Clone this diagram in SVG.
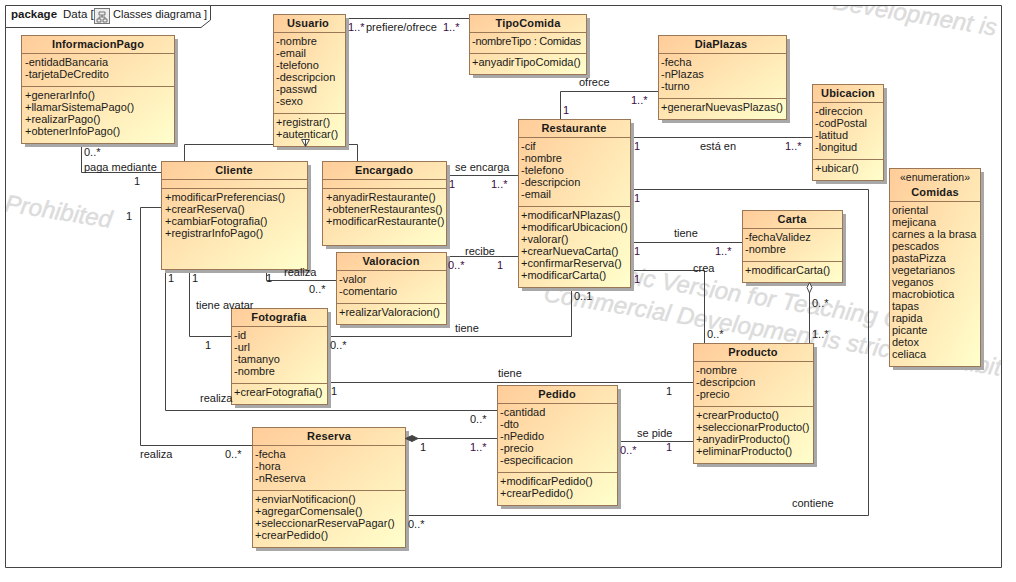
<svg xmlns="http://www.w3.org/2000/svg" width="1016" height="582" viewBox="0 0 1016 582">
<style>
text{font-family:"Liberation Sans",Arial,sans-serif;font-size:11px;fill:#1a1a1a}
.n{font-weight:bold;text-anchor:middle;letter-spacing:.15px}
.m{fill:#3c0a46}
.wm{font-size:24px;font-style:italic;fill:#dcdcdc;stroke:#dcdcdc;stroke-width:.5px}
.box{fill:url(#g);stroke:#9a7757;stroke-width:1}
.sh{fill:#a8a8a8}
.sep{stroke:#9a7757;stroke-width:1}
.c{fill:none;stroke:#444;stroke-width:1}
.t{font-size:11.5px}
</style>
<defs>
<linearGradient id="g" x1="0" y1="0" x2="1" y2="1"><stop offset="0" stop-color="#ffcc99"/><stop offset="1" stop-color="#ffffcc"/></linearGradient>
<clipPath id="fc"><rect x="6" y="6" width="995" height="561"/></clipPath>
</defs>
<rect width="1016" height="582" fill="#fff"/>
<g id="watermark" clip-path="url(#fc)">
<text class="wm" transform="translate(832,9) rotate(9.3)">Development is</text>
<text class="wm" transform="translate(4,211) rotate(9)">Prohibited</text>
<text class="wm" transform="translate(543,301) rotate(9.3)">Commercial Development is strictly Prohibited</text>
<text class="wm" transform="translate(550,271) rotate(9.3)">Academic Version for Teaching Only</text>
</g>
<g id="frame">
<path d="M5.5 5.5H1001.5V567.500H5.500Z" fill="none" stroke="#444"/>
<path d="M5.500 27.500H201L210.500 20V5.500" fill="none" stroke="#444"/>
<text x="11" y="18" style="font-size:11.5px;font-weight:bold">package</text>
<text x="63" y="18" class="t">Data [</text>
<rect x="94.500" y="8.500" width="15" height="15" fill="#eee" stroke="#777"/>
<path d="M99 12h6v3h-6zM97 19h4v3h-4zM103 19h4v3h-4zM102 15v2M99 19v-2h6v2" fill="none" stroke="#555" stroke-width=".8"/>
<text x="113" y="18">Classes diagrama ]</text>
</g>
<g id="connectors">
<path class="c" d="M346 18.500H469.500"/>
<path class="c" d="M184.500 161V144.500H357.500V161"/>
<path class="c" d="M81.500 143V172.500H161.500"/>
<path class="c" d="M161.500 207.500H140.500V445.500H252.500"/>
<path class="c" d="M165.500 269V410.500H497.500"/>
<path class="c" d="M189.500 269V336.500H231.500"/>
<path class="c" d="M266.500 269V280.500H336.500"/>
<path class="c" d="M446.500 175.500H518.500"/>
<path class="c" d="M446.500 256.500H518.500"/>
<path class="c" d="M560.500 119.500V91.500H658.500"/>
<path class="c" d="M630.500 137.500H812.500"/>
<path class="c" d="M630.500 189.500H868.500V515.500H405.500"/>
<path class="c" d="M630.500 242.500H742.500"/>
<path class="c" d="M630.500 270.500H704.500V343.500"/>
<path class="c" d="M571.500 287V336.500H327.500"/>
<path class="c" d="M327.500 382.500H693.500"/>
<path class="c" d="M617.500 441.500H693.500"/>
<path class="c" d="M418 438.500H497.500"/>
<path class="c" d="M809.500 293V343.500"/>
</g>
<g id="InformacionPago"><rect class="sh" x="25" y="39" width="153" height="108"/><rect class="box" x="21.500" y="35.500" width="153" height="108"/><path class="sep" d="M21.500 53.500H174.500M21.500 86.500H174.500"/>
<text class="n" x="98" y="48">InformacionPago</text>
<text x="25" y="66">-entidadBancaria</text><text x="25" y="78">-tarjetaDeCredito</text>
<text x="25" y="99">+generarInfo()</text><text x="25" y="111">+llamarSistemaPago()</text><text x="25" y="123">+realizarPago()</text><text x="25" y="135">+obtenerInfoPago()</text></g>
<g id="Usuario"><rect class="sh" x="277" y="18" width="72" height="132"/><rect class="box" x="273.500" y="14.500" width="72" height="132"/><path class="sep" d="M273.500 32.500H345.500M273.500 113.500H345.500"/>
<text class="n" x="308" y="27">Usuario</text>
<text x="276" y="45">-nombre</text><text x="276" y="57">-email</text><text x="276" y="69">-telefono</text><text x="276" y="81">-descripcion</text><text x="276" y="93">-passwd</text><text x="276" y="105">-sexo</text>
<text x="276" y="126">+registrar()</text><text x="276" y="138">+autenticar()</text></g>
<g id="TipoComida"><rect class="sh" x="473" y="18" width="117" height="60"/><rect class="box" x="469.500" y="14.500" width="117" height="60"/><path class="sep" d="M469.500 32.500H586.500M469.500 53.500H586.500"/>
<text class="n" x="528" y="27">TipoComida</text>
<text x="472" y="45" textLength="109">-nombreTipo : Comidas</text>
<text x="472" y="66">+anyadirTipoComida()</text></g>
<g id="DiaPlazas"><rect class="sh" x="662" y="39" width="128" height="84"/><rect class="box" x="658.500" y="35.500" width="128" height="84"/><path class="sep" d="M658.500 53.500H786.500M658.500 98.500H786.500"/>
<text class="n" x="721" y="48">DiaPlazas</text>
<text x="661" y="66">-fecha</text><text x="661" y="78">-nPlazas</text><text x="661" y="90">-turno</text>
<text x="661" y="111">+generarNuevasPlazas()</text></g>
<g id="Ubicacion"><rect class="sh" x="816" y="88" width="71" height="96"/><rect class="box" x="812.500" y="84.500" width="71" height="96"/><path class="sep" d="M812.500 102.500H883.500M812.500 159.500H883.500"/>
<text class="n" x="848" y="97">Ubicacion</text>
<text x="815" y="115">-direccion</text><text x="815" y="127">-codPostal</text><text x="815" y="139">-latitud</text><text x="815" y="151">-longitud</text>
<text x="815" y="172">+ubicar()</text></g>
<g id="Comidas"><rect class="sh" x="893" y="172" width="91" height="198"/><rect class="box" x="889.500" y="168.500" width="91" height="198"/><path class="sep" d="M889.500 201.500H980.500"/>
<text x="935" y="181" style="text-anchor:middle;font-size:10.500px">«enumeration»</text>
<text class="n" x="935" y="196">Comidas</text>
<text x="892" y="214">oriental</text><text x="892" y="226">mejicana</text><text x="892" y="238">carnes a la brasa</text><text x="892" y="250">pescados</text><text x="892" y="262">pastaPizza</text><text x="892" y="274">vegetarianos</text><text x="892" y="286">veganos</text><text x="892" y="298">macrobiotica</text><text x="892" y="310">tapas</text><text x="892" y="322">rapida</text><text x="892" y="334">picante</text><text x="892" y="346">detox</text><text x="892" y="358">celiaca</text></g>
<g id="Cliente"><rect class="sh" x="165" y="165" width="146" height="108"/><rect class="box" x="161.500" y="161.500" width="146" height="108"/><path class="sep" d="M161.500 179.500H307.500M161.500 188.500H307.500"/>
<text class="n" x="234" y="174">Cliente</text>
<text x="165" y="201">+modificarPreferencias()</text><text x="165" y="213">+crearReserva()</text><text x="165" y="225">+cambiarFotografia()</text><text x="165" y="237">+registrarInfoPago()</text></g>
<g id="Encargado"><rect class="sh" x="326" y="165" width="124" height="84"/><rect class="box" x="322.500" y="161.500" width="124" height="84"/><path class="sep" d="M322.500 179.500H446.500M322.500 188.500H446.500"/>
<text class="n" x="384" y="174">Encargado</text>
<text x="326" y="201">+anyadirRestaurante()</text><text x="326" y="213">+obtenerRestaurantes()</text><text x="326" y="225">+modificarRestaurante()</text></g>
<g id="Restaurante"><rect class="sh" x="522" y="123" width="112" height="168"/><rect class="box" x="518.500" y="119.500" width="112" height="168"/><path class="sep" d="M518.500 137.500H630.500M518.500 206.500H630.500"/>
<text class="n" x="574" y="132">Restaurante</text>
<text x="521" y="150">-cif</text><text x="521" y="162">-nombre</text><text x="521" y="174">-telefono</text><text x="521" y="186">-descripcion</text><text x="521" y="198">-email</text>
<text x="521" y="219">+modificarNPlazas()</text><text x="521" y="231">+modificarUbicacion()</text><text x="521" y="243">+valorar()</text><text x="521" y="255">+crearNuevaCarta()</text><text x="521" y="267">+confirmarReserva()</text><text x="521" y="279">+modificarCarta()</text></g>
<g id="Valoracion"><rect class="sh" x="340" y="256" width="110" height="72"/><rect class="box" x="336.500" y="252.500" width="110" height="72"/><path class="sep" d="M336.500 270.500H446.500M336.500 303.500H446.500"/>
<text class="n" x="391" y="265">Valoracion</text>
<text x="339" y="283">-valor</text><text x="339" y="295">-comentario</text>
<text x="339" y="316">+realizarValoracion()</text></g>
<g id="Carta"><rect class="sh" x="746" y="214" width="100" height="72"/><rect class="box" x="742.500" y="210.500" width="100" height="72"/><path class="sep" d="M742.500 228.500H842.500M742.500 261.500H842.500"/>
<text class="n" x="792" y="223">Carta</text>
<text x="745" y="241">-fechaValidez</text><text x="745" y="253">-nombre</text>
<text x="745" y="274">+modificarCarta()</text></g>
<g id="Fotografia"><rect class="sh" x="235" y="312" width="96" height="96"/><rect class="box" x="231.500" y="308.500" width="96" height="96"/><path class="sep" d="M231.500 326.500H327.500M231.500 383.500H327.500"/>
<text class="n" x="279" y="321">Fotografia</text>
<text x="234" y="339">-id</text><text x="234" y="351">-url</text><text x="234" y="363">-tamanyo</text><text x="234" y="375">-nombre</text>
<text x="234" y="396">+crearFotografia()</text></g>
<g id="Producto"><rect class="sh" x="697" y="347" width="120" height="120"/><rect class="box" x="693.500" y="343.500" width="120" height="120"/><path class="sep" d="M693.500 361.500H813.500M693.500 406.500H813.500"/>
<text class="n" x="753" y="356">Producto</text>
<text x="696" y="374">-nombre</text><text x="696" y="386">-descripcion</text><text x="696" y="398">-precio</text>
<text x="696" y="419">+crearProducto()</text><text x="696" y="431">+seleccionarProducto()</text><text x="696" y="443">+anyadirProducto()</text><text x="696" y="455">+eliminarProducto()</text></g>
<g id="Pedido"><rect class="sh" x="501" y="389" width="120" height="120"/><rect class="box" x="497.500" y="385.500" width="120" height="120"/><path class="sep" d="M497.500 403.500H617.500M497.500 472.500H617.500"/>
<text class="n" x="557" y="398">Pedido</text>
<text x="500" y="416">-cantidad</text><text x="500" y="428">-dto</text><text x="500" y="440">-nPedido</text><text x="500" y="452">-precio</text><text x="500" y="464">-especificacion</text>
<text x="500" y="485">+modificarPedido()</text><text x="500" y="497">+crearPedido()</text></g>
<g id="Reserva"><rect class="sh" x="256" y="431" width="153" height="120"/><rect class="box" x="252.500" y="427.500" width="153" height="120"/><path class="sep" d="M252.500 445.500H405.500M252.500 490.500H405.500"/>
<text class="n" x="329" y="440">Reserva</text>
<text x="255" y="458">-fecha</text><text x="255" y="470">-hora</text><text x="255" y="482">-nReserva</text>
<text x="255" y="503">+enviarNotificacion()</text><text x="255" y="515">+agregarComensale()</text><text x="255" y="527">+seleccionarReservaPagar()</text><text x="255" y="539">+crearPedido()</text></g>
<g id="markers">
<path d="M301.500 139.500H309.500L305.500 146.500Z M305.500 139.500V146" fill="#fff" stroke="#444"/>
<path d="M405.500 438.500L412 435.500L418 438.500L412 441.500Z" fill="#444" stroke="#444"/>
<path d="M809.500 282.500L812 287.500L809.500 293L807 287.500Z" fill="#fff" stroke="#444"/>
</g>
<g id="labels">
<text x="348" y="31" class="m">1..*</text><text x="366" y="31">prefiere/ofrece</text><text x="443" y="31" class="m">1..*</text>
<text x="84" y="156">0..*</text><text x="84" y="171">paga mediante</text><text x="134" y="185">1</text>
<text x="126" y="220">1</text>
<text x="168" y="282">1</text><text x="192" y="282">1</text><text x="266" y="282">1</text><text x="284" y="276">realiza</text><text x="309" y="293">0..*</text>
<text x="196" y="309">tiene avatar</text><text x="205" y="349">1</text><text x="200" y="402">realiza</text>
<text x="140" y="458">realiza</text><text x="225" y="458">0..*</text>
<text x="455" y="171">se encarga</text><text x="449" y="188" class="m">1</text><text x="491" y="188" class="m">1..*</text>
<text x="465" y="255">recibe</text><text x="448" y="269" class="m">0..*</text><text x="497" y="269" class="m">1</text>
<text x="579" y="86">ofrece</text><text x="563" y="114" class="m">1</text><text x="631" y="104" class="m">1..*</text>
<text x="634" y="150" class="m">1</text><text x="700" y="150">está en</text><text x="785" y="150" class="m">1..*</text>
<text x="634" y="202" class="m">1</text>
<text x="634" y="255" class="m">1</text><text x="674" y="237">tiene</text><text x="715" y="255" class="m">1..*</text>
<text x="634" y="283" class="m">1</text><text x="693" y="272">crea</text><text x="707" y="338">0..*</text>
<text x="574" y="300">0..1</text><text x="455" y="332">tiene</text><text x="330" y="349">0..*</text>
<text x="498" y="377">tiene</text><text x="331" y="395">1</text><text x="666" y="395">1</text>
<text x="470" y="423">0..*</text><text x="420" y="451">1</text><text x="470" y="451" class="m">1..*</text>
<text x="637" y="437">se pide</text><text x="620" y="454" class="m">0..*</text><text x="666" y="451" class="m">1</text>
<text x="812" y="307">0..*</text><text x="812" y="338">1..*</text>
<text x="792" y="507">contiene</text><text x="408" y="528">0..*</text>
</g>
</svg>
